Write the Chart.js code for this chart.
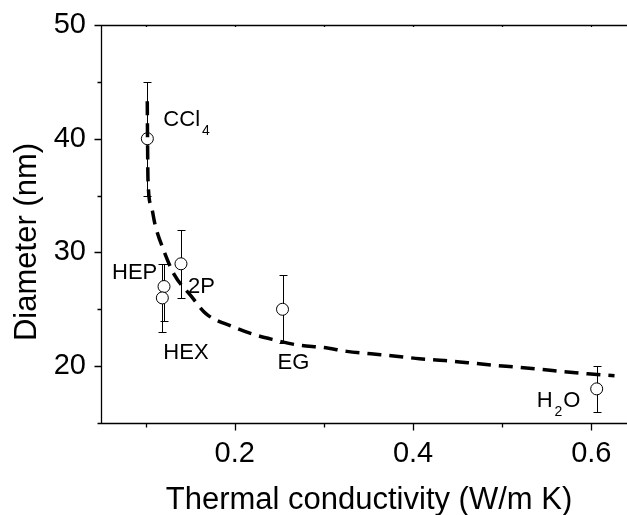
<!DOCTYPE html>
<html>
<head>
<meta charset="utf-8">
<script src="https://cdn.jsdelivr.net/npm/chart.js@4.4.0/dist/chart.umd.min.js"></script>
<style>
  html, body { margin: 0; padding: 0; background: #fff; }
  canvas { display: block; }
</style>
</head>
<body>
<canvas id="chart" width="627" height="515"></canvas>
<script>
// measured particles, one per base fluid
var fluids = ['CCl4', 'HEP', 'HEX', '2P', 'EG', 'H2O'];
var conductivity = [0.102, 0.1207, 0.1188, 0.1397, 0.2536, 0.606];
var diameter = [40, 27, 26, 29, 25, 18];
var errUp = [5, 2, 3, 3, 3, 2];
var errDown = [5, 3, 3, 3, 3, 2];

// dashed fit curve
var fitX = [0.1019, 0.1022, 0.1027, 0.1064, 0.1106, 0.1207, 0.132, 0.1507, 0.168, 0.197,
            0.2195, 0.242, 0.2712, 0.300, 0.3257, 0.3529, 0.381, 0.4072, 0.4353, 0.4615,
            0.4896, 0.5158, 0.5439, 0.570, 0.596, 0.626];
var fitY = [43.3, 40, 36.4, 34.07, 32.46, 30.1, 28.07, 26.2, 24.6, 23.5,
            22.83, 22.35, 21.85, 21.64, 21.3, 21.09, 20.88, 20.65, 20.5, 20.3,
            20.09, 19.91, 19.71, 19.51, 19.33, 19.15];

var xTicks = [0.1, 0.2, 0.3, 0.4, 0.5, 0.6];
var xTickLabels = [0.2, 0.4, 0.6];
var yTicks = [15, 20, 25, 30, 35, 40, 45, 50];
var yTickLabels = [20, 30, 40, 50];

var xTitle = 'Thermal conductivity (W/m K)';
var yTitle = 'Diameter (nm)';

// label text split into normal / subscript parts (odd index = subscript)
var labelParts = [['CCl', '4'], ['HEP'], ['HEX'], ['2P'], ['EG'], ['H', '2', 'O']];
// where each label sits relative to its point (left, baseline), px
var labelOffsets = [[16, -13], [-52, -8], [1, 61], [7, 29], [-5, 60], [-60, 18]];

var FONT = '"Liberation Sans", Arial, sans-serif';

function isIn(list, v) {
    return list.some(function (t) { return Math.abs(t - v) < 1e-9; });
}

function noScalePadding(s) {
    s.paddingTop = 0; s.paddingBottom = 0;
    s.paddingLeft = 0; s.paddingRight = 0;
}

var errorBars = {
    id: 'errorBars',
    beforeDatasetsDraw: function (chart) {
        var ctx = chart.ctx, x = chart.scales.x, y = chart.scales.y;
        ctx.save();
        ctx.strokeStyle = '#000';
        ctx.lineWidth = 1;
        for (var i = 0; i < fluids.length; i++) {
            var px = Math.round(x.getPixelForValue(conductivity[i])) + 0.5;
            var top = Math.round(y.getPixelForValue(diameter[i] + errUp[i])) + 0.5;
            var bot = Math.round(y.getPixelForValue(diameter[i] - errDown[i])) + 0.5;
            ctx.beginPath();
            ctx.moveTo(px, top); ctx.lineTo(px, bot);
            ctx.moveTo(px - 4, top); ctx.lineTo(px + 4, top);
            ctx.moveTo(px - 4, bot); ctx.lineTo(px + 4, bot);
            ctx.stroke();
        }
        ctx.restore();
    }
};

var axesAndLabels = {
    id: 'axesAndLabels',
    afterDraw: function (chart) {
        var ctx = chart.ctx, x = chart.scales.x, y = chart.scales.y;
        var a = chart.chartArea;
        ctx.save();
        ctx.strokeStyle = '#000';
        ctx.lineWidth = 1.3;
        ctx.beginPath();
        var lx = Math.round(a.left) + 0.5, by = Math.round(a.bottom) + 0.5, ty = Math.round(a.top) + 0.5;
        // left + bottom axes, plus the top frame line
        ctx.moveTo(lx, ty); ctx.lineTo(lx, by); ctx.lineTo(a.right, by);
        ctx.moveTo(lx, ty); ctx.lineTo(a.right, ty);
        xTicks.forEach(function (v) {
            var px = Math.round(x.getPixelForValue(v)) + 0.5;
            ctx.moveTo(px, by); ctx.lineTo(px, by + (isIn(xTickLabels, v) ? 7 : 4));
            ctx.moveTo(px, ty); ctx.lineTo(px, ty + 1.5);
        });
        yTicks.forEach(function (v) {
            var py = Math.round(y.getPixelForValue(v)) + 0.5;
            ctx.moveTo(lx, py); ctx.lineTo(lx - (isIn(yTickLabels, v) ? 7 : 4), py);
        });
        ctx.stroke();

        ctx.fillStyle = '#000';
        // axis titles
        ctx.font = '31px ' + FONT;
        ctx.textAlign = 'center';
        ctx.textBaseline = 'middle';
        ctx.fillText(xTitle, 369, 500);
        ctx.save();
        ctx.translate(27, 242);
        ctx.rotate(-Math.PI / 2);
        ctx.fillText(yTitle, 0, 0);
        ctx.restore();

        ctx.textBaseline = 'alphabetic';
        ctx.textAlign = 'left';
        for (var i = 0; i < fluids.length; i++) {
            var cx = x.getPixelForValue(conductivity[i]) + labelOffsets[i][0];
            var cy = y.getPixelForValue(diameter[i]) + labelOffsets[i][1];
            labelParts[i].forEach(function (part, k) {
                if (k % 2) {
                    ctx.font = '14px ' + FONT;
                    cx += 2;
                    ctx.fillText(part, cx, cy + 9);
                    cx += ctx.measureText(part).width + 1;
                } else {
                    ctx.font = '22px ' + FONT;
                    ctx.fillText(part, cx, cy);
                    cx += ctx.measureText(part).width;
                }
            });
        }
        ctx.restore();
    }
};

var points = fluids.map(function (f, i) { return { x: conductivity[i], y: diameter[i] }; });
var fit = fitX.map(function (v, i) { return { x: v, y: fitY[i] }; });

new Chart(document.getElementById('chart').getContext('2d'), {
    type: 'scatter',
    data: {
        datasets: [{
            label: 'Fit',
            data: fit,
            showLine: true,
            order: 0,
            borderColor: '#000',
            borderWidth: 3.5,
            borderDash: [14, 8],
            pointRadius: 0,
            cubicInterpolationMode: 'monotone',
            fill: false
        }, {
            label: 'Diameter',
            data: points,
            order: 1,
            pointRadius: 6,
            pointHoverRadius: 6,
            pointBorderWidth: 1,
            pointBorderColor: '#000',
            pointBackgroundColor: '#fff'
        }]
    },
    options: {
        responsive: false,
        animation: false,
        events: [],
        layout: { autoPadding: false, padding: { left: 0, top: 25, right: 0, bottom: 0 } },
        plugins: { legend: { display: false }, tooltip: { enabled: false } },
        scales: {
            x: {
                type: 'linear',
                min: 0.05,
                max: 0.64,
                afterBuildTicks: function (s) { s.ticks = xTicks.map(function (v) { return { value: v }; }); },
                afterFit: function (s) { s.height = 92; noScalePadding(s); },
                grid: { display: true, drawOnChartArea: false, drawTicks: false },
                border: { display: false },
                ticks: {
                    autoSkip: false,
                    maxRotation: 0,
                    padding: 14,
                    color: '#000',
                    font: { family: FONT, size: 29 },
                    callback: function (v) { return isIn(xTickLabels, v) ? v.toFixed(1) : ''; }
                }
            },
            y: {
                type: 'linear',
                min: 15,
                max: 50,
                afterBuildTicks: function (s) { s.ticks = yTicks.map(function (v) { return { value: v }; }); },
                afterFit: function (s) { s.width = 101; noScalePadding(s); },
                grid: { display: true, drawOnChartArea: false, drawTicks: false },
                border: { display: false },
                ticks: {
                    autoSkip: false,
                    padding: 15,
                    color: '#000',
                    font: { family: FONT, size: 29 },
                    callback: function (v) { return isIn(yTickLabels, v) ? String(v) : ''; }
                }
            }
        }
    },
    plugins: [errorBars, axesAndLabels]
});
</script>
</body>
</html>
